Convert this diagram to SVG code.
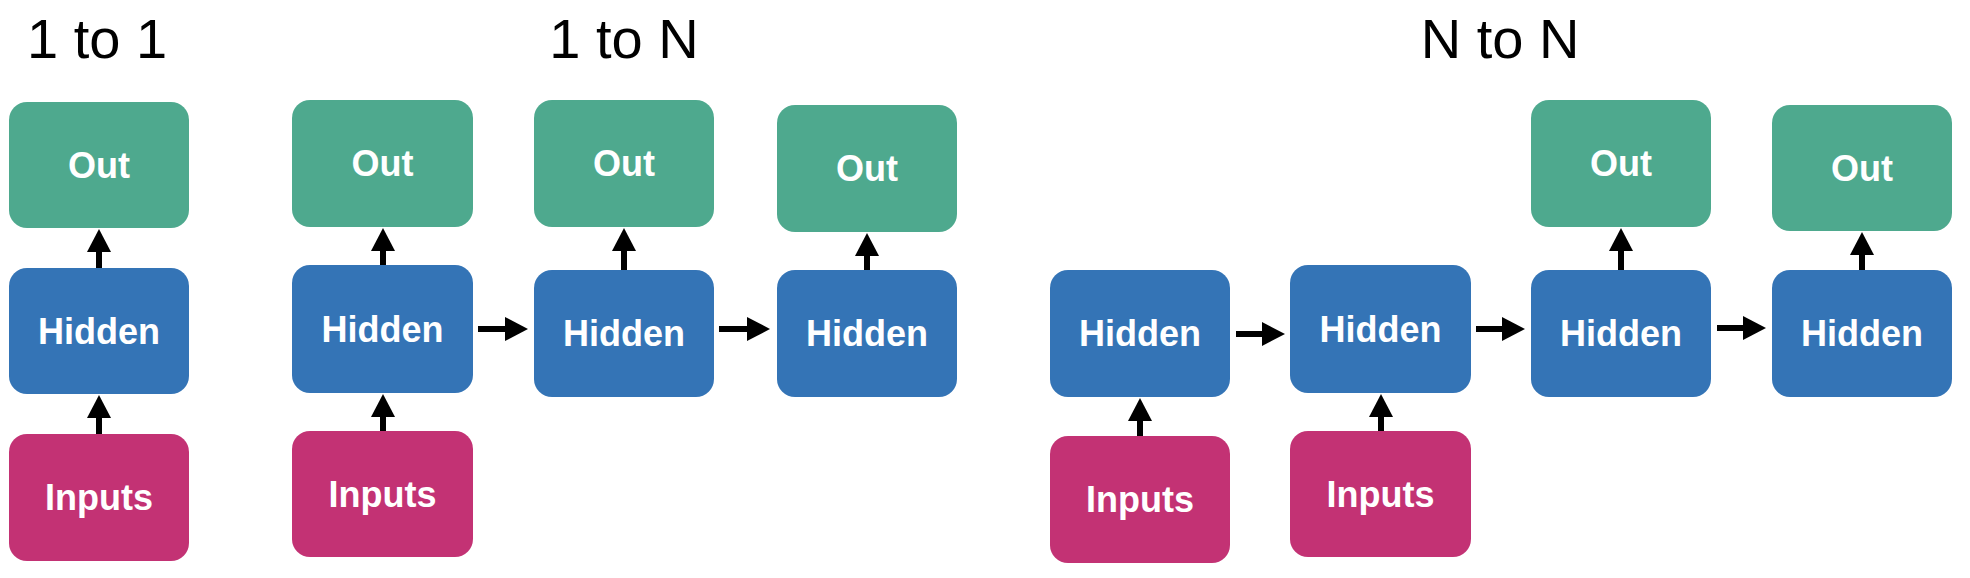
<svg xmlns="http://www.w3.org/2000/svg" width="1970" height="578" viewBox="0 0 1970 578">
<style>
.out{fill:#4EA98E}
.hid{fill:#3474B6}
.inp{fill:#C33274}
.lbl{font-family:"Liberation Sans",Arial,Helvetica,sans-serif;font-weight:bold;font-size:36px;fill:#fff;text-anchor:middle}
.title{font-family:"Liberation Sans",Arial,Helvetica,sans-serif;font-size:56px;fill:#000;text-anchor:middle}
.arr{stroke:#000;stroke-width:6;fill:none;marker-end:url(#ah)}
</style>
<defs>
<marker id="ah" markerUnits="userSpaceOnUse" markerWidth="23" markerHeight="24" refX="0" refY="12" orient="auto" viewBox="0 0 23 24">
<path d="M0,0 L23,12 L0,24 z" fill="#000"/>
</marker>
</defs>
<rect width="1970" height="578" fill="#fff"/>
<g id="titles">
<text class="title" x="97" y="58">1 to 1</text>
<text class="title" x="624" y="58">1 to N</text>
<text class="title" x="1500" y="58">N to N</text>
</g>
<!-- 1 to 1 -->
<g id="c1-out"><rect class="out" x="9" y="102" width="180" height="126" rx="18"/><text class="lbl" x="99" y="178">Out</text></g>
<g id="c1-hidden"><rect class="hid" x="9" y="268" width="180" height="126" rx="18"/><text class="lbl" x="99" y="344">Hidden</text></g>
<g id="c1-inputs"><rect class="inp" x="9" y="434" width="180" height="127" rx="18"/><text class="lbl" x="99" y="510">Inputs</text></g>
<!-- 1 to N -->
<g id="c2-out1"><rect class="out" x="292" y="100" width="181" height="127" rx="18"/><text class="lbl" x="382.5" y="176">Out</text></g>
<g id="c2-hidden1"><rect class="hid" x="292" y="265" width="181" height="128" rx="18"/><text class="lbl" x="382.5" y="342">Hidden</text></g>
<g id="c2-inputs1"><rect class="inp" x="292" y="431" width="181" height="126" rx="18"/><text class="lbl" x="382.5" y="507">Inputs</text></g>
<g id="c2-out2"><rect class="out" x="534" y="100" width="180" height="127" rx="18"/><text class="lbl" x="624" y="176">Out</text></g>
<g id="c2-hidden2"><rect class="hid" x="534" y="270" width="180" height="127" rx="18"/><text class="lbl" x="624" y="346">Hidden</text></g>
<g id="c2-out3"><rect class="out" x="777" y="105" width="180" height="127" rx="18"/><text class="lbl" x="867" y="181">Out</text></g>
<g id="c2-hidden3"><rect class="hid" x="777" y="270" width="180" height="127" rx="18"/><text class="lbl" x="867" y="346">Hidden</text></g>
<!-- N to N -->
<g id="c3-hiddenA"><rect class="hid" x="1050" y="270" width="180" height="127" rx="18"/><text class="lbl" x="1140" y="346">Hidden</text></g>
<g id="c3-inputsA"><rect class="inp" x="1050" y="436" width="180" height="127" rx="18"/><text class="lbl" x="1140" y="512">Inputs</text></g>
<g id="c3-hiddenB"><rect class="hid" x="1290" y="265" width="181" height="128" rx="18"/><text class="lbl" x="1380.5" y="342">Hidden</text></g>
<g id="c3-inputsB"><rect class="inp" x="1290" y="431" width="181" height="126" rx="18"/><text class="lbl" x="1380.5" y="507">Inputs</text></g>
<g id="c3-outC"><rect class="out" x="1531" y="100" width="180" height="127" rx="18"/><text class="lbl" x="1621" y="176">Out</text></g>
<g id="c3-hiddenC"><rect class="hid" x="1531" y="270" width="180" height="127" rx="18"/><text class="lbl" x="1621" y="346">Hidden</text></g>
<g id="c3-outD"><rect class="out" x="1772" y="105" width="180" height="126" rx="18"/><text class="lbl" x="1862" y="181">Out</text></g>
<g id="c3-hiddenD"><rect class="hid" x="1772" y="270" width="180" height="127" rx="18"/><text class="lbl" x="1862" y="346">Hidden</text></g>
<g id="connectors">
<line class="arr" x1="99" y1="268" x2="99" y2="252"/>
<line class="arr" x1="99" y1="434" x2="99" y2="418"/>
<line class="arr" x1="383" y1="265" x2="383" y2="251"/>
<line class="arr" x1="383" y1="431" x2="383" y2="417"/>
<line class="arr" x1="624" y1="270" x2="624" y2="251"/>
<line class="arr" x1="867" y1="270" x2="867" y2="256"/>
<line class="arr" x1="478" y1="329" x2="505" y2="329"/>
<line class="arr" x1="719" y1="329" x2="747" y2="329"/>
<line class="arr" x1="1140" y1="436" x2="1140" y2="421"/>
<line class="arr" x1="1381" y1="431" x2="1381" y2="417"/>
<line class="arr" x1="1621" y1="270" x2="1621" y2="251"/>
<line class="arr" x1="1862" y1="270" x2="1862" y2="255"/>
<line class="arr" x1="1236" y1="334" x2="1262" y2="334"/>
<line class="arr" x1="1476" y1="329" x2="1502" y2="329"/>
<line class="arr" x1="1717" y1="328" x2="1743" y2="328"/>
</g>
</svg>
